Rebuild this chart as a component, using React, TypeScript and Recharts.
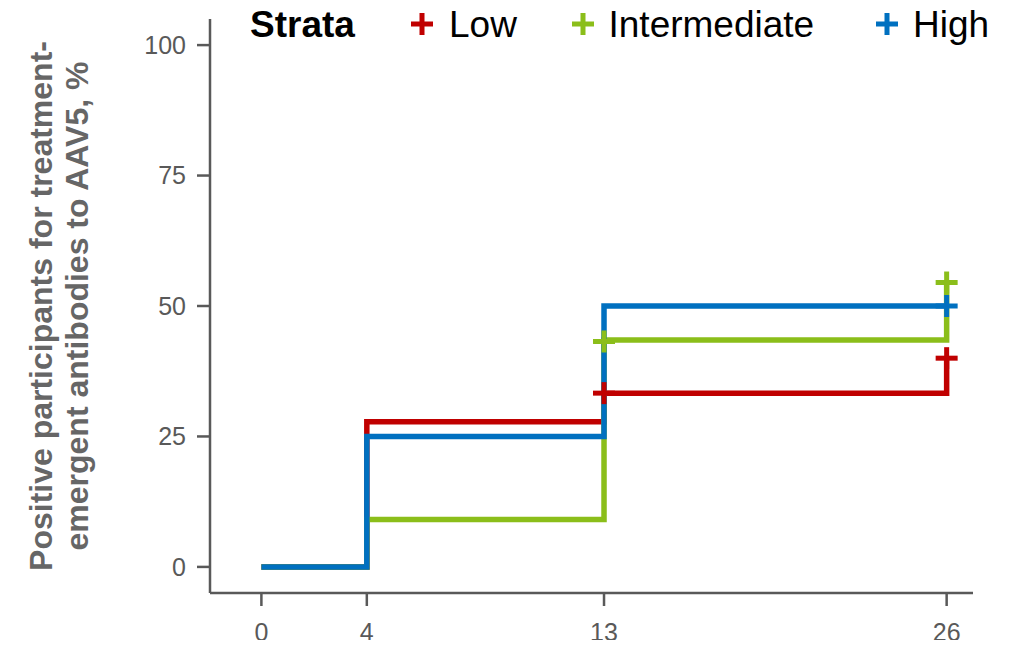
import React from "react";
import { ComposedChart, Line, Scatter, XAxis, YAxis } from "recharts";

// step values (cumulative % positive) per strata, at weeks 0, 4, 13, 26
const weeks = [0, 4, 13, 26];
const lowValues = [0, 27.8, 33.3, 40];
const intermediateValues = [0, 9.1, 43.5, 54.5];
const highValues = [0, 25, 50, 50];

// censor marks
const lowCensor = [
  { t: 13, v: 33.3 },
  { t: 26, v: 40 },
];
const intermediateCensor = [
  { t: 13, v: 43.2 },
  { t: 26, v: 54.5 },
];
const highCensor = [{ t: 26, v: 50 }];

const yTicks = [0, 25, 50, 75, 100];
const xTicks = [0, 4, 13, 26];

const strata = [
  { name: "Low", color: "#C00000", plusX: 422, textX: 449 },
  { name: "Intermediate", color: "#8BBE1A", plusX: 583, textX: 608.5 },
  { name: "High", color: "#0070C0", plusX: 887, textX: 913 },
];

const toRows = (vals: number[]) => weeks.map((t, i) => ({ t, v: vals[i] }));

const FONT = '"Liberation Sans", Arial, sans-serif';
const AXIS = "#595959";

const plus = (color: string) => (props: any) => {
  const { cx, cy } = props;
  const s = 11;
  return (
    <g>
      <line x1={cx - s} x2={cx + s} y1={cy} y2={cy} stroke={color} strokeWidth={5} />
      <line x1={cx} x2={cx} y1={cy - s} y2={cy + s} stroke={color} strokeWidth={5} />
    </g>
  );
};

// legend + y axis title drawn on top of the chart
const Overlay = () => (
  <svg width={1015} height={648} style={{ position: "absolute", left: 0, top: 0, pointerEvents: "none" }}>
    <g fontFamily={FONT} fontSize={37}>
      <text x={250} y={37} fontWeight="bold" fill="#000">
        Strata
      </text>
      {strata.map((s) => (
        <g key={s.name}>
          <rect x={s.plusX - 11} y={21.5} width={22} height={5} fill={s.color} />
          <rect x={s.plusX - 2.5} y={13} width={5} height={22} fill={s.color} />
          <text x={s.textX} y={37} fill="#000">
            {s.name}
          </text>
        </g>
      ))}
    </g>
    <g fontFamily={FONT} fontWeight="bold" fontSize={32} fill="#666666">
      <text transform="translate(52, 306) rotate(-90)" textAnchor="middle">
        Positive participants for treatment-
      </text>
      <text transform="translate(88, 306) rotate(-90)" textAnchor="middle">
        emergent antibodies to AAV5, %
      </text>
    </g>
  </svg>
);

export default function App() {
  return (
    <div style={{ margin: -8, position: "relative", width: 1015, height: 648, background: "#fff" }}>
      <ComposedChart
        width={1015}
        height={648}
        margin={{ top: 19, right: 42, bottom: 5, left: 110 }}
      >
        <XAxis
          type="number"
          dataKey="t"
          domain={[-1.95, 27]}
          ticks={xTicks}
          allowDataOverflow
          height={50}
          stroke={AXIS}
          strokeWidth={2.5}
          tickSize={13}
          tickMargin={17}
          tick={{ fill: AXIS, fontSize: 25, fontFamily: FONT }}
        />
        <YAxis
          type="number"
          domain={[-5, 105]}
          ticks={yTicks}
          allowDataOverflow
          width={100}
          stroke={AXIS}
          strokeWidth={2.5}
          tickSize={13}
          tickMargin={11}
          tick={{ fill: AXIS, fontSize: 25, fontFamily: FONT }}
        />
        <Line
          data={toRows(lowValues)}
          dataKey="v"
          type="stepAfter"
          stroke={strata[0].color}
          strokeWidth={5.5}
          dot={false}
          isAnimationActive={false}
        />
        <Line
          data={toRows(intermediateValues)}
          dataKey="v"
          type="stepAfter"
          stroke={strata[1].color}
          strokeWidth={5.5}
          dot={false}
          isAnimationActive={false}
        />
        <Line
          data={toRows(highValues)}
          dataKey="v"
          type="stepAfter"
          stroke={strata[2].color}
          strokeWidth={5.5}
          dot={false}
          isAnimationActive={false}
        />
        <Scatter data={lowCensor} dataKey="v" shape={plus(strata[0].color)} isAnimationActive={false} />
        <Scatter data={intermediateCensor} dataKey="v" shape={plus(strata[1].color)} isAnimationActive={false} />
        <Scatter data={highCensor} dataKey="v" shape={plus(strata[2].color)} isAnimationActive={false} />
      </ComposedChart>
      <Overlay />
    </div>
  );
}
